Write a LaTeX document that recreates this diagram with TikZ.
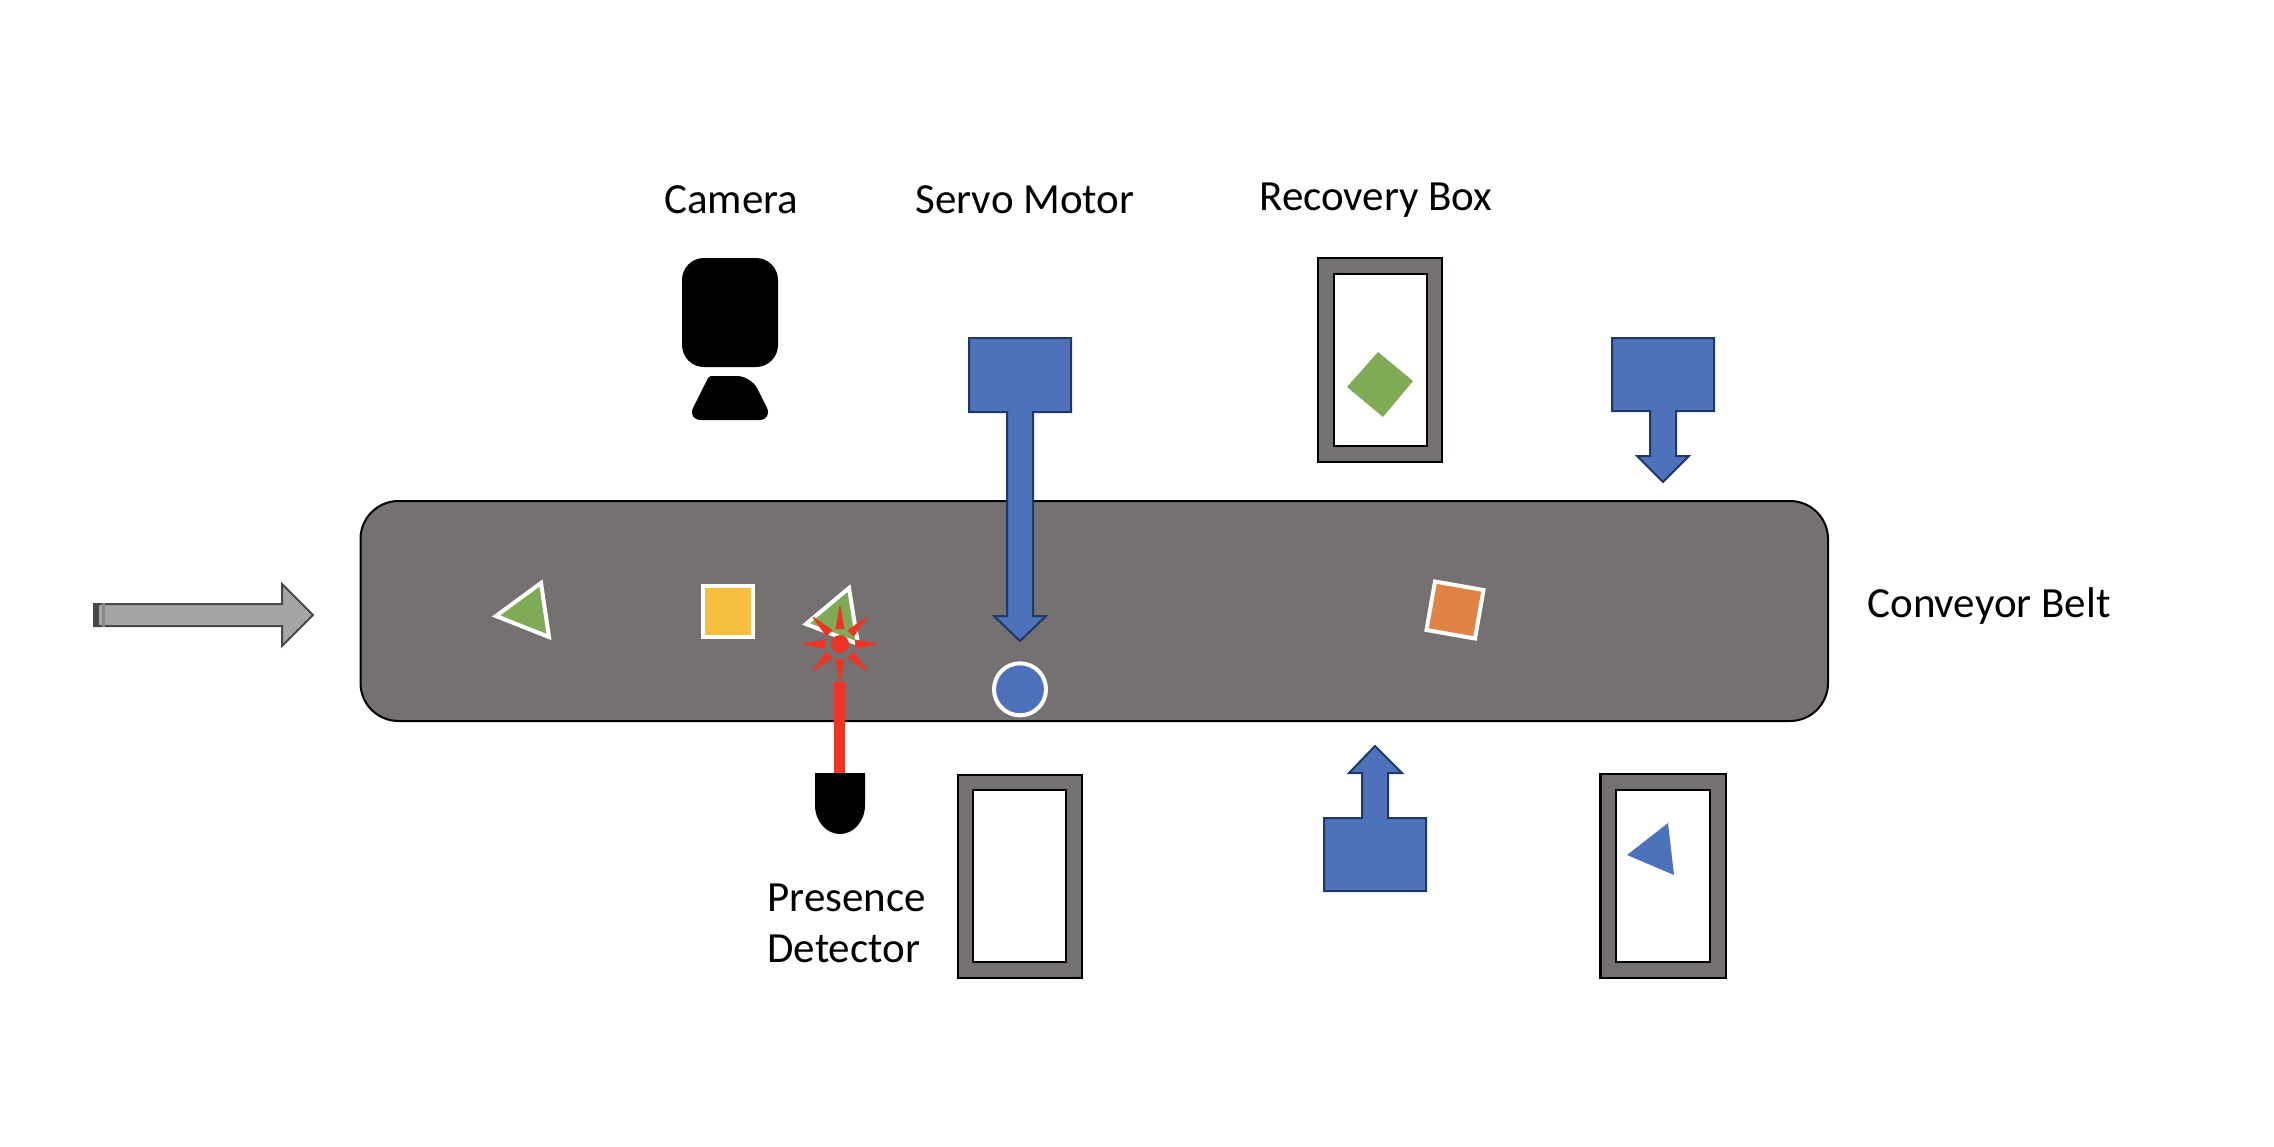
\documentclass[tikz,border=0pt]{standalone}
\usepackage{fontspec}
\setmainfont{Carlito}
\definecolor{beltgray}{HTML}{767171}
\definecolor{servoblue}{HTML}{4E71BC}
\definecolor{servoedge}{HTML}{1F3864}
\definecolor{leaf}{HTML}{7FAB56}
\definecolor{amber}{HTML}{F6BF3F}
\definecolor{carrot}{HTML}{E08243}
\definecolor{laser}{HTML}{EE3424}
\definecolor{feedfill}{HTML}{A5A5A5}
\definecolor{feededge}{HTML}{484848}
\tikzset{
  belt/.style={fill=beltgray,draw=black,line width=1pt,rounded corners=19pt},
  pusher/.style={fill=servoblue,draw=servoedge,line width=1pt,line join=miter},
  binouter/.style={fill=beltgray,draw=black,line width=1.2pt},
  bininner/.style={fill=white,draw=black,line width=1pt},
  piece/.style={draw=white,line width=2pt,line join=miter,miter limit=10},
  label/.style={font=\fontsize{21.5pt}{25pt}\selectfont,text=black,inner sep=0pt,anchor=base west},
}
\begin{document}
\begin{tikzpicture}[x=0.5pt,y=-0.5pt]
\useasboundingbox (0,0) rectangle (2274,1146);
% feed arrow
\draw[fill=feedfill,draw=feededge,line width=1pt,line join=miter]
  (94,604) -- (282,604) -- (282,584) -- (313,615) -- (282,646) -- (282,626) -- (94,626) -- cycle;
\fill[feededge] (93,603) rectangle (99,627);
\fill[feedfill!70!feededge] (102,603) rectangle (105,627);
% belt
\draw[belt] (360.5,501) rectangle (1828,721);
% camera
\fill[black,rounded corners=11pt] (682,258) rectangle (778,367);
\fill[black,rounded corners=7pt] (687,420) -- (773,420) -- (751,376) [rounded corners=1pt] -- (709,376) [rounded corners=7pt] -- cycle;
% pieces on the belt
\draw[piece,fill=leaf] (496,616) -- (541,583) -- (549,637) -- cycle;
\draw[piece,fill=amber] (703,586) rectangle (753,637);
\draw[piece,fill=leaf] (806,624) -- (849,588) -- (858,644) -- cycle;
\draw[piece,fill=carrot] (1435,581.5) -- (1483.5,590) -- (1475,638.5) -- (1426.5,630) -- cycle;
\draw[piece,fill=servoblue] (1020,689.3) circle [radius=26];
% laser
\fill[laser] (834,682) rectangle (845,773);
\fill[laser] (840,644) circle [radius=9];
\foreach \a in {0,45,...,315}{
  \fill[laser,shift={(840,644)},rotate=\a] (15,-4.5) -- (38,-0.5) -- (38,0.5) -- (15,4.5) -- cycle;
}
\fill[black] (815,773) -- (865,773) -- (865,805) .. controls (865,822) and (853,834) .. (840,834) .. controls (827,834) and (815,822) .. (815,805) -- cycle;
% servo pushers
\draw[pusher] (969,338) -- (1071,338) -- (1071,412) -- (1033,412) -- (1033,616) -- (1046,616) -- (1020,641) -- (994,616) -- (1007,616) -- (1007,412) -- (969,412) -- cycle;
\draw[pusher] (1612,338) -- (1714,338) -- (1714,411) -- (1676,411) -- (1676,456) -- (1689,456) -- (1663,482) -- (1637,456) -- (1650,456) -- (1650,411) -- (1612,411) -- cycle;
\draw[pusher] (1324,891) -- (1426,891) -- (1426,818) -- (1388,818) -- (1388,773) -- (1402,773) -- (1375,746) -- (1349,773) -- (1362,773) -- (1362,818) -- (1324,818) -- cycle;
% recovery boxes
\draw[binouter] (1318,258) rectangle (1442,462);
\draw[bininner] (1334,274) rectangle (1427,446);
\draw[binouter] (958,775) rectangle (1082,978);
\draw[bininner] (973,790) rectangle (1066,962);
\draw[binouter] (1600.5,774) rectangle (1726,978);
\draw[bininner] (1616,790) rectangle (1710,962);
% pieces in the boxes
\fill[leaf] (1378,352) -- (1413,381) -- (1383,417) -- (1347,387) -- cycle;
\fill[servoblue] (1668,823) -- (1674,875) -- (1627,855) -- cycle;
% labels
\node[label] (cam) at (664,213) {Camera};
\node[label] (servo) at (915,213) {Servo Motor};
\node[label] (rec) at (1259,210) {Recovery Box};
\node[label] (conv) at (1867,617) {Conveyor Belt};
\node[label] (pres) at (767,911) {Presence};
\node[label] (det) at (767,962) {Detector};
\end{tikzpicture}
\end{document}
